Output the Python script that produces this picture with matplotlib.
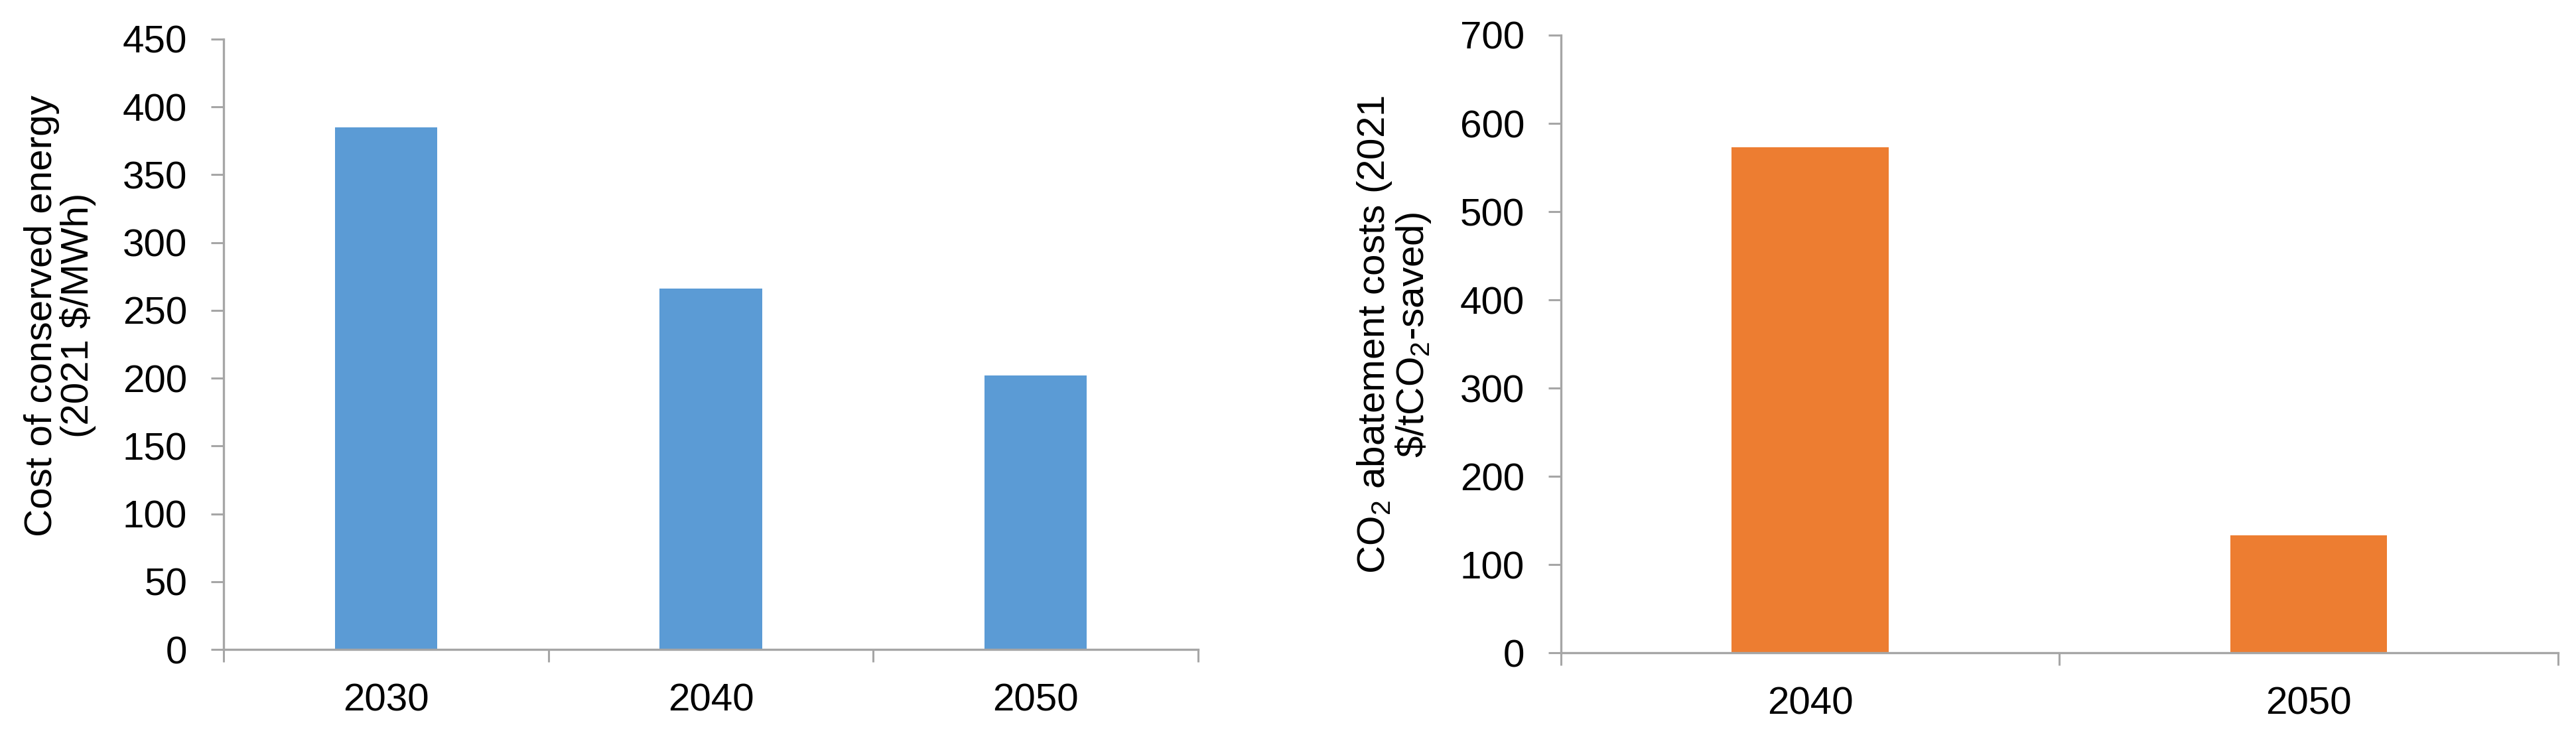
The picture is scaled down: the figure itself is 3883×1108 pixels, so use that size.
import numpy as np
import matplotlib
matplotlib.use("Agg")
import matplotlib.pyplot as plt
from matplotlib.ticker import FixedLocator, NullFormatter

plt.rcParams['font.family'] = ['Liberation Sans', 'DejaVu Sans']
plt.rcParams['mathtext.fontset'] = 'custom'
plt.rcParams['mathtext.rm'] = 'Liberation Sans'
plt.rcParams['mathtext.it'] = 'Liberation Sans:italic'

# data
years_cce = ['2030', '2040', '2050']
cost_conserved = [385, 266, 202]
years_co2 = ['2040', '2050']
co2_abatement = [573, 133]

blue = '#5B9BD5'
orange = '#ED7D31'
axis_grey = '#A6A6A6'
fs = 42

fig = plt.figure(figsize=(38.83, 11.08), dpi=100)
ax1 = fig.add_axes([0.0868, 0.1164, 0.4651 - 0.0868, 0.9468 - 0.1164])
ax2 = fig.add_axes([0.6060, 0.1116, 0.9930 - 0.6060, 0.9522 - 0.1116])


def style(ax, cats, vals, color, ymax, ystep):
    x = np.arange(len(cats))
    ax.bar(x, vals, width=0.315, color=color, zorder=2)
    ax.set_xlim(-0.5, len(cats) - 0.5)
    ax.set_ylim(0, ymax)
    ax.set_yticks(np.arange(0, ymax + 1, ystep))
    # tick marks between categories, labels at category centres
    ax.xaxis.set_major_locator(FixedLocator(np.arange(-0.5, len(cats), 1.0)))
    ax.xaxis.set_major_formatter(NullFormatter())
    ax.xaxis.set_minor_locator(FixedLocator(x))
    ax.set_xticklabels(cats, minor=True)
    for s in ['top', 'right']:
        ax.spines[s].set_visible(False)
    for s in ['left', 'bottom']:
        ax.spines[s].set_color(axis_grey)
        ax.spines[s].set_linewidth(2.4)
        ax.spines[s].set_zorder(3)
    ax.tick_params(axis='both', which='major', length=13.5, width=2.2,
                   color=axis_grey, labelsize=fs, direction='out')
    ax.tick_params(axis='y', pad=26)
    ax.tick_params(axis='x', which='minor', length=0, labelsize=fs, pad=36)


style(ax1, years_cce, cost_conserved, blue, 450, 50)
style(ax2, years_co2, co2_abatement, orange, 700, 100)

ax1.text(-0.168, 0.547, 'Cost of conserved energy\n(2021 $/MWh)', transform=ax1.transAxes,
         rotation=90, ha='center', va='center', multialignment='center',
         fontsize=fs, linespacing=1.0)
ax2.text(-0.1677, 0.515, 'CO$_2$ abatement costs (2021\n\\$/tCO$_2$-saved)', transform=ax2.transAxes,
         rotation=90, ha='center', va='center', multialignment='center',
         fontsize=fs, linespacing=1.0)

fig.savefig('out.png', dpi=100)
